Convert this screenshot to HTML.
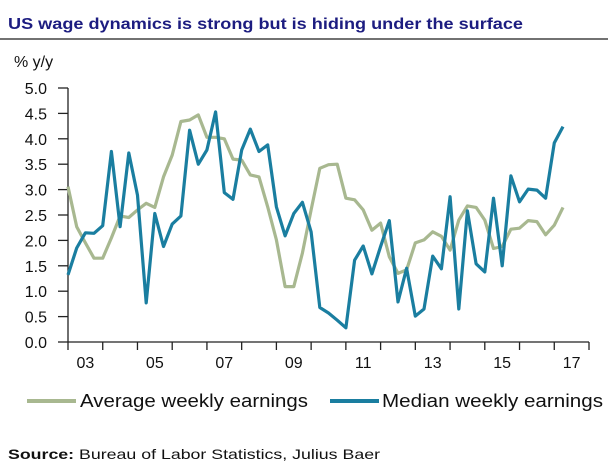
<!DOCTYPE html>
<html><head><meta charset="utf-8"><style>
html,body{margin:0;padding:0;background:#fff;}
svg{display:block;font-family:"Liberation Sans",sans-serif;}
</style></head><body>
<svg id="chart" width="608" height="470" viewBox="0 0 608 470">
<text x="8" y="29" font-size="16" font-weight="bold" fill="#1c1c80" textLength="515" lengthAdjust="spacingAndGlyphs">US wage dynamics is strong but is hiding under the surface</text>
<line x1="0" y1="39" x2="608" y2="39" stroke="#444" stroke-width="1.5"/>
<text x="14" y="67" font-size="16" fill="#111">% y/y</text>
<g id="axes"></g>
<g id="series"></g>
<g>
<line x1="27" y1="401" x2="76" y2="401" stroke="#a8b890" stroke-width="4"/>
<text x="80" y="407" font-size="18" fill="#111" textLength="228" lengthAdjust="spacingAndGlyphs">Average weekly earnings</text>
<line x1="330" y1="401" x2="379" y2="401" stroke="#1a7ea0" stroke-width="4"/>
<text x="382" y="407" font-size="18" fill="#111" textLength="221" lengthAdjust="spacingAndGlyphs">Median weekly earnings</text>
</g>
<text x="8" y="459" font-size="14" fill="#111" textLength="372" lengthAdjust="spacingAndGlyphs"><tspan font-weight="bold">Source:</tspan> Bureau of Labor Statistics, Julius Baer</text>
</svg>
<script>
const yTicks = [0,0.5,1,1.5,2,2.5,3,3.5,4,4.5,5];
const yTickLabels = ["0.0","0.5","1.0","1.5","2.0","2.5","3.0","3.5","4.0","4.5","5.0"];
const xLabels = ["03","05","07","09","11","13","15","17"];
const average = [3.06,2.27,1.95,1.65,1.65,2.05,2.48,2.45,2.6,2.73,2.65,3.25,3.68,4.34,4.37,4.47,4.03,4.03,4.0,3.6,3.58,3.29,3.25,2.66,2.01,1.09,1.09,1.75,2.6,3.42,3.49,3.5,2.83,2.8,2.6,2.2,2.34,1.68,1.35,1.42,1.95,2.01,2.17,2.08,1.81,2.4,2.68,2.65,2.4,1.84,1.88,2.22,2.24,2.39,2.37,2.11,2.3,2.65];
const median = [1.32,1.85,2.15,2.14,2.29,3.75,2.27,3.72,2.89,0.77,2.53,1.88,2.32,2.48,4.17,3.5,3.78,4.53,2.94,2.81,3.78,4.19,3.75,3.88,2.66,2.09,2.53,2.75,2.17,0.68,0.57,0.43,0.28,1.61,1.89,1.34,1.88,2.39,0.79,1.45,0.51,0.65,1.69,1.44,2.86,0.65,2.58,1.54,1.38,2.83,1.5,3.27,2.76,3.01,2.99,2.83,3.92,4.24];
const startYear = 2003, endYear = 2018;
const x0 = 68, x1 = 589, yBase = 342, yTop = 88;
const xYear = y => x0 + (y - startYear) * (x1 - x0) / (endYear - startYear);
const xQ = i => xYear(startYear + i / 4);
const yV = v => yBase - v * (yBase - yTop) / 5;
const NS = "http://www.w3.org/2000/svg";
const axes = document.getElementById('axes');
const series = document.getElementById('series');
function mk(tag, attrs, parent){const e=document.createElementNS(NS,tag);for(const k in attrs)e.setAttribute(k,attrs[k]);parent.appendChild(e);return e;}
const ya = mk('line',{x1:x0,y1:yTop,x2:x0,y2:yBase,stroke:'#222','stroke-width':1.3},axes);


const xa = mk('line',{x1:x0,y1:yBase,x2:x1,y2:yBase,stroke:'#222','stroke-width':1.3},axes);


yTicks.forEach((v,i)=>{
  const t = mk('line',{x1:x0-10,y1:yV(v),x2:x0,y2:yV(v),stroke:'#222','stroke-width':1.3},axes);
  
  
  const l = mk('text',{x:47,y:yV(v)+6,'font-size':16,'text-anchor':'end',fill:'#111'},axes);
  
  
  l.textContent = yTickLabels[i];
});
for(let y=startYear;y<=endYear;y++){
  const t = mk('line',{x1:xYear(y),y1:yBase,x2:xYear(y),y2:yBase+8,stroke:'#222','stroke-width':1.3},axes);
  
  
}
xLabels.forEach((s,i)=>{
  const yr = startYear + i*2;
  const l = mk('text',{x:(xYear(yr)+xYear(yr+1))/2,y:368,'font-size':16,'text-anchor':'middle',fill:'#111'},axes);
  
  
  l.textContent = s;
});
function path(arr){return arr.map((v,i)=>(i?'L':'M')+xQ(i).toFixed(1)+','+yV(v).toFixed(1)).join(' ');}
const pa = mk('path',{d:path(average),fill:'none',stroke:'#a8b890','stroke-width':3.2,'stroke-linejoin':'round'},series);


const pm = mk('path',{d:path(median),fill:'none',stroke:'#1a7ea0','stroke-width':3.2,'stroke-linejoin':'round'},series);


</script>
</body></html>
